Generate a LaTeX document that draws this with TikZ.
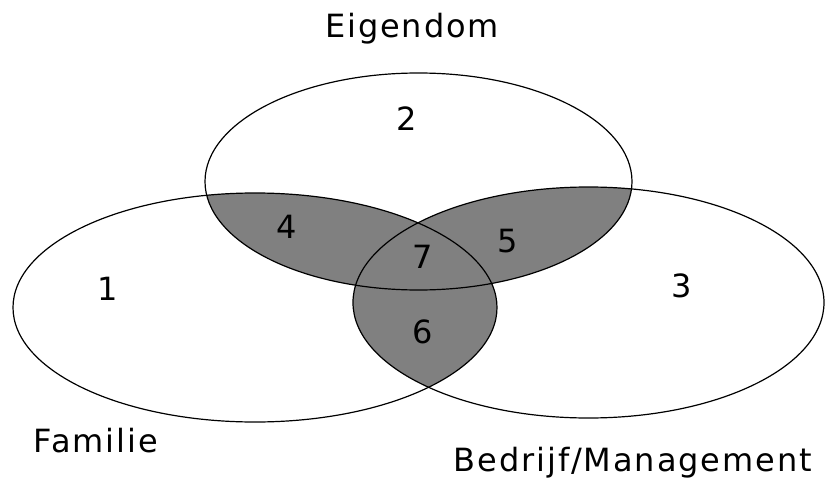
\documentclass[tikz,border=0pt]{standalone}
\usepackage{fontspec}
\setmainfont{DejaVu Sans}[LetterSpace=6]
\begin{document}
\begin{tikzpicture}[x=1pt,y=-1pt,line width=1.2pt,
  lbl/.style={font=\fontsize{32}{38}\selectfont,inner sep=0pt}]
\useasboundingbox (0,0) rectangle (828,479);
\coordinate (ce) at (418.5,181.5);
\coordinate (cf) at (255,307.5);
\coordinate (cb) at (588.5,302.5);
\begin{scope}
\clip (ce) ellipse [x radius=213.5,y radius=108.5];
\fill[gray] (cf) ellipse [x radius=242,y radius=114.5];
\fill[gray] (cb) ellipse [x radius=235.5,y radius=115.5];
\end{scope}
\begin{scope}
\clip (cf) ellipse [x radius=242,y radius=114.5];
\fill[gray] (cb) ellipse [x radius=235.5,y radius=115.5];
\end{scope}
\draw (ce) ellipse [x radius=213.5,y radius=108.5];
\draw (cf) ellipse [x radius=242,y radius=114.5];
\draw (cb) ellipse [x radius=235.5,y radius=115.5];
\node[lbl,anchor=base] (eig) at (412,37) {Eigendom};
\node[lbl,anchor=base west] (fam) at (33,452) {Familie};
\node[lbl,anchor=base west] (bed) at (453,471) {Bedrijf/Management};
\node[lbl,anchor=base] (n1) at (108,300) {1};
\node[lbl,anchor=base] (n2) at (407,130) {2};
\node[lbl,anchor=base] (n3) at (682,297) {3};
\node[lbl,anchor=base] (n4) at (287,238) {4};
\node[lbl,anchor=base] (n5) at (508,252) {5};
\node[lbl,anchor=base] (n6) at (423,343) {6};
\node[lbl,anchor=base] (n7) at (423,268) {7};
\end{tikzpicture}
\end{document}
